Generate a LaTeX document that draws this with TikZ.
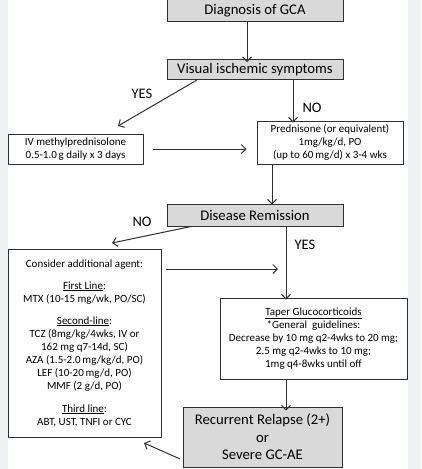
\documentclass[tikz,border=0pt]{standalone}
\usepackage{fontspec}
\setmainfont{Carlito}
\usetikzlibrary{arrows.meta}
\definecolor{margin}{HTML}{F0F1F3}
\definecolor{boxgray}{HTML}{D9D9D9}
\definecolor{linecol}{HTML}{303030}
\begin{document}
\begin{tikzpicture}[x=1pt,y=-1pt,
  box/.style={draw=linecol,line width=1pt,fill=white,inner sep=0pt,align=center,font=\fontsize{11}{13}\selectfont},
  graybox/.style={box,fill=boxgray,font=\fontsize{14.7}{17.5}\selectfont},
  arr/.style={draw=linecol,line width=1pt,-{Straight Barb[length=4.5pt,width=9pt]}},
  lab/.style={font=\fontsize{14.5}{16}\selectfont,inner sep=0pt}]
\useasboundingbox (0,0) rectangle (421,469);
\fill[margin] (0,0) rectangle (421,469);
\fill[white] (8,0) rectangle (408,469);
% boxes
\node[graybox,minimum width=176pt,minimum height=22pt] (diag) at (255,10.5) {Diagnosis of GCA};
\node[graybox,minimum width=176pt,minimum height=20pt] (vis) at (255,69.5) {Visual ischemic symptoms};
\node[box,minimum width=135pt,minimum height=30pt] (iv) at (75.5,149) {IV methylprednisolone\\0.5-1.0\,g daily x 3 days};
\node[box,minimum width=146pt,minimum height=43pt] (pred) at (330,142.5) {Prednisone (or equivalent)\\1mg/kg/d, PO\\(up to 60\,mg/d) x 3-4 wks};
\node[graybox,minimum width=176pt,minimum height=22pt] (rem) at (255,215) {Disease Remission};
\node[box,minimum width=153pt,minimum height=188pt] (cons) at (84.5,343) {Consider additional agent:\\[9pt]
  \underline{First Line}:\\MTX (10-15 mg/wk, PO/SC)\\[9pt]
  \underline{Second-line}:\\TCZ (8mg/kg/4wks, IV or\\162 mg q7-14d, SC)\\AZA (1.5-2.0\,mg/kg/d, PO)\\LEF (10-20\,mg/d, PO)\\MMF (2 g/d, PO)\\[10pt]
  \underline{Third line}:\\ABT, UST, TNFI or CYC};
\node[box,minimum width=187pt,minimum height=81pt] (tap) at (313.5,338.5) {\underline{Taper Glucocorticoids}\\*General~ guidelines:\\Decrease by 10 mg q2-4wks to 20 mg;\\2.5 mg q2-4wks to 10 mg;\\1mg q4-8wks until off};
\node[graybox,minimum width=159pt,minimum height=60pt] (rel) at (262.5,437) {Recurrent Relapse (2+)\\or\\Severe GC-AE};
% labels
\node[lab] (yes1) at (142,94) {YES};
\node[lab] (no1) at (312,108) {NO};
\node[lab] (no2) at (142,222) {NO};
\node[lab] (yes2) at (305,245) {YES};
% connectors
\draw[arr] (diag.south -| 247,0) -- ([yshift=-3pt]vis.north -| 247,0);
\coordinate (yesend) at (118,126);
\draw[arr] (vis.south -| 197,0) -- (yesend);
\draw[arr] (vis.south -| 293,0) -- ([yshift=-2pt]pred.north -| 293,0);
\draw[arr,shorten <=9pt,shorten >=10pt] (iv.east) -- (pred.west |- iv.east);
\draw[arr] (pred.south -| 272,0) -- ([yshift=-1pt]rem.north -| 272,0);
\coordinate (noend) at (112,243);
\draw[arr] (rem.south -| 191,0) -- (noend);
\draw[arr] (rem.south -| 286,0) -- ([yshift=-2pt]tap.north -| 286,0);
\coordinate (consend) at (278,269);
\draw[arr,shorten <=4pt] (cons.east |- consend) -- (consend);
\draw[arr] (tap.south -| 286,0) -- ([yshift=-4pt]rel.north -| 286,0);
\coordinate (relend) at (144,443);
\draw[arr,shorten <=3pt] (rel.west |- 0,460) -- (relend);
\end{tikzpicture}
\end{document}
